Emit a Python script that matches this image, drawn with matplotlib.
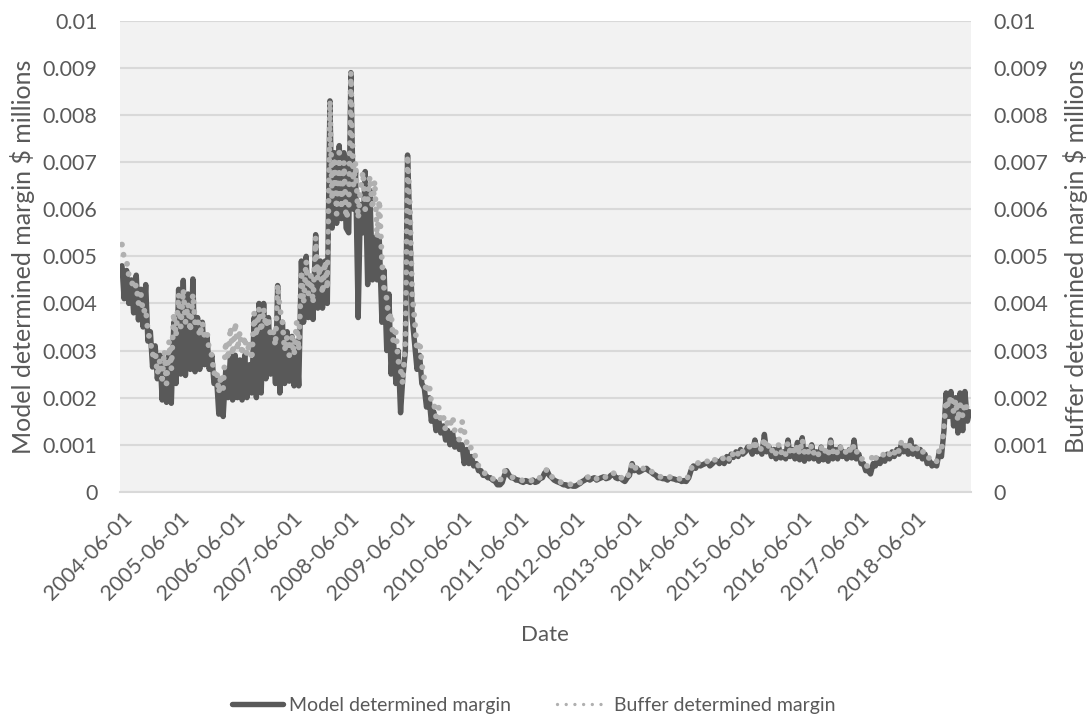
import matplotlib
matplotlib.use('Agg')
import matplotlib.pyplot as plt
from matplotlib.lines import Line2D
import numpy as np
import pandas as pd

plt.rcParams['font.family'] = ['Lato', 'DejaVu Sans']

# semi-monthly readings, in thousandths of $ millions (Jun 2004 - May 2019)
model_margin = [
    4.8, 4.1, 4.7, 4.0, 4.5, 3.8, 4.6, 3.65, 4.3, 3.5, 4.4, 3.2, 3.4, 2.65, 3.1, 2.4, 2.9, 1.95, 2.8, 1.9, 2.9, 1.88, 3.6, 2.3,
    4.3, 2.5, 4.49, 2.47, 4.2, 2.6, 4.52, 2.55, 3.7, 2.6, 3.6, 2.7, 3.3, 2.6, 2.9, 2.3, 2.4, 1.65, 2.3, 1.6, 2.6, 2.0, 2.9, 1.95,
    2.9, 2.0, 2.8, 1.95, 2.9, 2.0, 2.7, 2.1, 3.7, 2.0, 4.0, 2.1, 4.0, 2.4, 3.7, 2.5, 3.3, 2.3, 4.38, 2.1, 3.6, 2.3, 3.4, 2.35,
    3.3, 2.25, 3.2, 2.25, 4.9, 3.6, 5.0, 3.7, 4.5, 3.66, 5.46, 3.9, 4.9, 3.9, 4.9, 4.0, 8.3, 5.6, 7.2, 5.7, 7.35, 5.8, 7.2, 5.6,
    5.5, 8.9, 6.0, 6.8, 3.7, 6.1, 5.5, 6.8, 4.4, 6.4, 4.5, 5.4, 4.5, 5.35, 3.6, 4.7, 3.0, 4.2, 2.5, 3.3, 2.3, 3.0, 1.68, 2.4,
    3.0, 7.15, 5.5, 3.7, 3.1, 2.6, 2.9, 2.3, 2.2, 1.8, 2.0, 1.5, 1.7, 1.3, 1.55, 1.25, 1.4, 1.1, 1.3, 1.0, 1.25, 0.95, 1.1, 0.9,
    1.0, 0.6, 0.9, 0.6, 0.75, 0.55, 0.6, 0.45, 0.45, 0.35, 0.35, 0.3, 0.3, 0.25, 0.22, 0.15, 0.15, 0.2, 0.35, 0.45, 0.35, 0.3, 0.3, 0.25,
    0.25, 0.22, 0.2, 0.24, 0.22, 0.2, 0.25, 0.2, 0.22, 0.28, 0.3, 0.4, 0.45, 0.35, 0.3, 0.25, 0.22, 0.2, 0.18, 0.15, 0.15, 0.12, 0.14, 0.12,
    0.12, 0.15, 0.18, 0.22, 0.25, 0.3, 0.25, 0.28, 0.3, 0.25, 0.28, 0.3, 0.32, 0.28, 0.3, 0.35, 0.38, 0.3, 0.28, 0.3, 0.25, 0.22, 0.3, 0.35,
    0.6, 0.45, 0.5, 0.42, 0.45, 0.48, 0.5, 0.45, 0.42, 0.38, 0.35, 0.3, 0.3, 0.28, 0.28, 0.25, 0.3, 0.28, 0.27, 0.25, 0.26, 0.22, 0.24, 0.22,
    0.3, 0.45, 0.55, 0.5, 0.6, 0.55, 0.58, 0.6, 0.62, 0.55, 0.6, 0.65, 0.65, 0.6, 0.7, 0.6, 0.75, 0.65, 0.8, 0.73, 0.85, 0.75, 0.9, 0.8,
    0.85, 0.95, 0.9, 0.8, 1.1, 0.85, 0.9, 0.8, 1.22, 0.85, 0.95, 0.75, 0.9, 0.7, 0.95, 0.72, 0.85, 0.7, 1.1, 0.75, 0.9, 0.7, 1.05, 0.68,
    1.15, 0.65, 0.9, 0.7, 1.0, 0.7, 0.85, 0.65, 0.95, 0.68, 0.85, 0.65, 1.1, 0.7, 0.9, 0.7, 0.95, 0.75, 0.85, 0.7, 0.9, 0.72, 1.1, 0.7,
    0.8, 0.6, 0.6, 0.45, 0.45, 0.38, 0.6, 0.55, 0.7, 0.6, 0.72, 0.65, 0.8, 0.7, 0.85, 0.75, 0.9, 0.8, 1.0, 0.85, 0.95, 0.8, 1.1, 0.8,
    0.95, 0.75, 0.9, 0.7, 0.8, 0.6, 0.65, 0.55, 0.6, 0.55, 0.85, 0.75, 1.3, 2.1, 1.6, 2.13, 1.4, 2.0, 1.25, 2.1, 1.3, 2.13, 1.5, 1.7,
]

buffer_margin = [
    5.25, 4.95, 4.9, 4.6, 4.5, 4.3, 4.4, 4.0, 4.2, 3.8, 3.9, 3.4, 3.2, 2.9, 3.0, 2.5, 2.8, 2.4, 3.0, 2.3, 3.2, 2.6, 3.8, 3.3,
    4.2, 3.5, 4.3, 3.6, 4.0, 3.4, 4.2, 3.6, 3.7, 3.3, 3.6, 3.3, 3.4, 3.0, 2.9, 2.5, 2.6, 2.1, 2.5, 2.2, 3.2, 2.8, 3.5, 2.9,
    3.6, 3.0, 3.4, 2.9, 3.3, 2.9, 3.2, 2.8, 3.8, 3.3, 3.9, 3.4, 3.9, 3.5, 3.7, 3.3, 3.4, 3.1, 4.4, 3.9, 3.6, 3.0, 3.3, 2.9,
    3.3, 2.9, 3.6, 3.0, 4.7, 4.0, 4.9, 4.2, 4.6, 4.0, 5.4, 4.5, 4.8, 4.2, 4.9, 4.3, 8.3, 6.2, 7.1, 5.9, 7.2, 6.0, 7.0, 5.8,
    6.0, 8.9, 6.5, 7.0, 5.8, 6.4, 6.8, 6.0, 6.2, 6.7, 6.0, 6.6, 5.4, 6.2, 4.9, 4.3, 4.1, 3.6, 3.8, 3.2, 3.4, 2.8, 2.6, 2.3,
    3.2, 7.15, 6.0, 4.2, 3.6, 3.0, 3.2, 2.7, 2.4, 2.1, 2.3, 1.9, 1.9, 1.6, 1.8, 1.5, 1.6, 1.3, 1.5, 1.4, 1.6, 1.3, 1.2, 1.1,
    1.5, 1.3, 1.05, 0.9, 0.95, 0.85, 0.7, 0.55, 0.5, 0.42, 0.38, 0.33, 0.32, 0.28, 0.25, 0.2, 0.25, 0.3, 0.45, 0.4, 0.38, 0.32, 0.3, 0.28,
    0.28, 0.25, 0.24, 0.26, 0.24, 0.22, 0.27, 0.24, 0.25, 0.3, 0.35, 0.42, 0.48, 0.38, 0.32, 0.28, 0.25, 0.22, 0.2, 0.18, 0.17, 0.15, 0.16, 0.14,
    0.15, 0.18, 0.2, 0.25, 0.28, 0.32, 0.3, 0.28, 0.32, 0.28, 0.3, 0.33, 0.35, 0.3, 0.33, 0.38, 0.4, 0.33, 0.3, 0.32, 0.28, 0.25, 0.33, 0.38,
    0.62, 0.5, 0.52, 0.45, 0.48, 0.5, 0.52, 0.47, 0.44, 0.4, 0.37, 0.33, 0.32, 0.3, 0.3, 0.28, 0.32, 0.3, 0.28, 0.27, 0.28, 0.25, 0.26, 0.25,
    0.35, 0.48, 0.58, 0.55, 0.62, 0.6, 0.6, 0.64, 0.65, 0.6, 0.62, 0.68, 0.68, 0.65, 0.72, 0.7, 0.78, 0.7, 0.85, 0.78, 0.88, 0.8, 0.92, 0.85,
    0.9, 0.98, 0.95, 0.88, 1.1, 0.9, 0.95, 0.88, 1.15, 0.9, 1.0, 0.85, 0.95, 0.8, 1.0, 0.82, 0.92, 0.8, 1.05, 0.85, 0.95, 0.8, 1.0, 0.8,
    1.12, 0.85, 0.95, 0.8, 1.0, 0.82, 0.9, 0.78, 0.95, 0.8, 0.9, 0.78, 1.05, 0.85, 0.95, 0.8, 0.95, 0.85, 0.9, 0.8, 0.92, 0.82, 1.0, 0.85,
    0.85, 0.7, 0.7, 0.55, 0.55, 0.65, 0.8, 0.7, 0.78, 0.75, 0.8, 0.76, 0.85, 0.8, 0.9, 0.82, 0.95, 0.85, 1.05, 0.92, 1.0, 0.9, 1.05, 0.9,
    1.0, 0.9, 0.95, 0.85, 0.85, 0.72, 0.72, 0.65, 0.68, 0.65, 0.9, 0.85, 1.4, 1.95, 1.8, 2.05, 1.7, 1.95, 1.5, 1.85, 1.6, 1.9, 1.75, 1.6,
]

tick_dates = ['2004-06-01', '2005-06-01', '2006-06-01', '2007-06-01', '2008-06-01',
              '2009-06-01', '2010-06-01', '2011-06-01', '2012-06-01', '2013-06-01',
              '2014-06-01', '2015-06-01', '2016-06-01', '2017-06-01', '2018-06-01']
y_ticks = [0, 0.001, 0.002, 0.003, 0.004, 0.005, 0.006, 0.007, 0.008, 0.009, 0.01]

SCALE = 1e-3
dates = pd.date_range('2004-06-01', periods=len(model_margin), freq='SMS')
model = np.array(model_margin) * SCALE
buffer = np.array(buffer_margin) * SCALE

TEXT = '#595959'
MODEL_C = '#595959'
BUFFER_C = '#B0B0B0'
TICK_FS = 15.5

fig = plt.figure(figsize=(10.89, 7.17), dpi=100)
ax = fig.add_axes([0.110, 0.314, 0.7816, 0.657])
ax.set_facecolor('#F2F2F2')
ax2 = ax.twinx()

ax.plot(dates, model, color=MODEL_C, linewidth=3.9, solid_joinstyle='round',
        solid_capstyle='round', zorder=3)
ax2.plot(dates, buffer, color=BUFFER_C, linewidth=4.2, linestyle=(0, (0.01, 1.75)),
         dash_capstyle='round', zorder=3)

for a in (ax, ax2):
    a.set_ylim(0, 0.01)
    a.set_yticks(y_ticks)
    a.set_yticklabels(['%g' % v for v in y_ticks])
    a.tick_params(axis='y', length=0, pad=16, labelsize=TICK_FS, labelcolor=TEXT)
    for s in a.spines.values():
        s.set_visible(False)

ax.set_xlim(pd.Timestamp('2004-05-18'), pd.Timestamp('2019-05-24'))
ax.set_xticks(pd.to_datetime(tick_dates))
ax.set_xticklabels(tick_dates, rotation=45, ha='right', rotation_mode='anchor')
ax.tick_params(axis='x', length=0, pad=12, labelsize=TICK_FS, labelcolor=TEXT)

ax.grid(axis='y', color='#D9D9D9', linewidth=1.5)
ax.set_axisbelow(True)
ax.spines['bottom'].set_visible(True)
ax.spines['bottom'].set_color('#D9D9D9')
ax.spines['bottom'].set_linewidth(1.5)

ax.set_xlabel('Date', fontsize=16, color=TEXT, va='center')
ax.xaxis.set_label_coords(0.5, -0.303)
ax.set_ylabel('Model determined margin $ millions', fontsize=18, color=TEXT, va='center')
ax.yaxis.set_label_coords(-0.114, 0.5)
ax2.set_ylabel('Buffer determined margin $ millions', fontsize=18, color=TEXT, va='center')
ax2.yaxis.set_label_coords(1.123, 0.5)

handles = [
    Line2D([], [], color=MODEL_C, linewidth=3.9, solid_capstyle='round'),
    Line2D([], [], color=BUFFER_C, linewidth=2.4, linestyle=(0, (0.01, 2.6)), dash_capstyle='round'),
]
fig.legend(handles, ['Model determined margin', 'Buffer determined margin'],
           loc='lower center', bbox_to_anchor=(0.49, -0.02), ncol=2, frameon=False,
           fontsize=14, labelcolor=TEXT, handlelength=2.6, columnspacing=2.4,
           handletextpad=0.3)

fig.savefig('out.png', dpi=100)
